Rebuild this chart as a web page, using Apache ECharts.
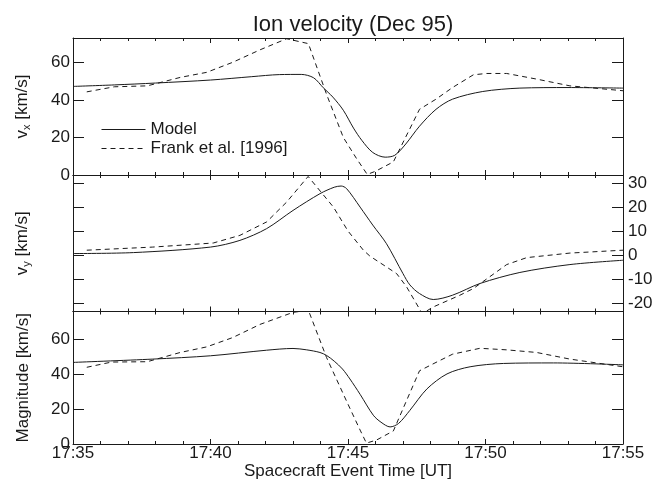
<!DOCTYPE html>
<html>
<head>
<meta charset="utf-8">
<script src="https://cdn.jsdelivr.net/npm/echarts@6/dist/echarts.min.js"></script>
<style>
html, body { margin: 0; padding: 0; background: #fff; }
#main { width: 666px; height: 481px; }
</style>
</head>
<body>
<div id="main"></div>
<script>
// minutes after 17:35
var timeLabels = ['17:35', '17:40', '17:45', '17:50', '17:55'];
var seriesNames = ['Model', 'Frank et al. [1996]'];

var vxModelT = [0, 1.5, 3, 5, 6.5, 7.5, 8.3, 8.75, 9.1, 9.45, 9.83, 10.2, 10.5, 10.9, 11.35, 11.7, 12.1, 12.6, 13.2, 13.8, 14.9, 16.25, 18, 20];
var vxModel = [47.2, 48, 49, 50.6, 52.4, 53.5, 53.6, 51.8, 46.5, 41.5, 34.5, 25, 18.5, 12, 9.5, 10.5, 16.5, 26, 35, 40.4, 44.5, 46.3, 46.6, 46.3];
var vxFrankT = [0.5, 1.5, 2.7, 3.9, 4.86, 5.8, 6.8, 7.77, 8.56, 9.22, 9.83, 10.3, 10.7, 11.0, 11.65, 12.6, 13.2, 13.8, 14.56, 15.04, 15.77, 16.86, 18.07, 20];
var vxFrank = [44.3, 47, 47.5, 52, 54.7, 60, 66.7, 72.6, 70, 43, 20, 9, 0.3, 2, 7, 35, 40.4, 46.6, 53.4, 54.1, 54.1, 51.1, 47.5, 44.9];

var vyModelT = [0, 2.2, 5, 6.07, 7.04, 8, 8.98, 9.5, 9.75, 9.95, 10.44, 10.9, 11.4, 12.0, 12.25, 12.6, 13.1, 13.8, 14.8, 16.25, 18.07, 20];
var vyModel = [0.6, 1, 3.3, 6.1, 11, 18.6, 25.6, 28.3, 28.8, 27.7, 20, 12.5, 4.7, -7.8, -12.5, -16.1, -18.6, -16.8, -11.9, -7.3, -4, -2.2];
var vyFrankT = [0.5, 2.9, 5.1, 6.07, 7.04, 7.77, 8.55, 9.47, 10.0, 10.56, 10.8, 11.4, 11.77, 12.13, 12.7, 13.1, 14.07, 14.56, 15.77, 16.5, 18.07, 20];
var vyFrank = [2, 3.3, 5, 8.2, 13.8, 22.1, 32.8, 20, 10, 2, -0.5, -5, -7.8, -13.3, -24.5, -21.7, -16.8, -14, -4, -1.1, 0.8, 2];

var magModelT = [0, 2.9, 5, 7.04, 8, 8.5, 8.98, 9.22, 9.5, 9.8, 10.07, 10.44, 10.92, 11.2, 11.53, 11.84, 12.25, 12.87, 13.6, 14.44, 15.65, 17.47, 20];
var magModel = [46.8, 48.7, 50.6, 53.8, 54.8, 54, 52.5, 50.8, 47.5, 43, 37.3, 28.5, 16.5, 12.5, 9.8, 11.8, 19.3, 31.6, 40.2, 44.3, 46.2, 46.5, 45.4];
var magFrankT = [0.5, 1.4, 2.7, 3.9, 4.86, 5.8, 6.8, 8.0, 8.56, 9.22, 9.95, 10.44, 10.67, 11.04, 11.65, 12.6, 13.2, 13.8, 14.8, 15.77, 16.86, 18.07, 20];
var magFrank = [44, 47, 47.2, 52.5, 55.7, 61, 68.6, 75.5, 76.7, 49.6, 24.5, 8, 0.5, 2.3, 7.5, 42, 46.8, 51.5, 54.9, 54, 52.5, 48.7, 44.3];

var vxTicks = [0, 20, 40, 60];
var vyTicks = [-20, -10, 0, 10, 20, 30];
var magTicks = [0, 20, 40, 60];

function pairs(t, v) {
    return t.map(function (x, i) { return [x, v[i]]; });
}

var font = 'Liberation Sans, Arial, Helvetica, sans-serif';
var ink = '#1a1a1a';
var panels = [
    { top: 38, height: 137, min: 0, max: 73, ticks: vxTicks, labelSide: 'left', name: 'v{sub|x} [km/s]' },
    { top: 175, height: 136.5, min: -23.6, max: 33.4, ticks: vyTicks, labelSide: 'right', name: 'v{sub|y} [km/s]' },
    { top: 311.5, height: 134.2, min: 0, max: 76, ticks: magTicks, labelSide: 'left', name: 'Magnitude [km/s]' }
];

var grids = [], xAxes = [], yAxes = [];
panels.forEach(function (p, i) {
    grids.push({ left: 73, right: 43, top: p.top, height: p.height });
    ['bottom', 'top'].forEach(function (pos) {
        var showLab = (i === 2 && pos === 'bottom');
        xAxes.push({
            type: 'value', gridIndex: i, position: pos, min: 0, max: 20, interval: 5,
            axisLine: { onZero: false, lineStyle: { color: ink, width: 1 } },
            axisTick: { inside: true, length: 5, lineStyle: { color: ink } },
            minorTick: { show: true, splitNumber: 5, length: 3, lineStyle: { color: ink } },
            splitLine: { show: false },
            axisLabel: {
                show: showLab, margin: 1, color: ink, fontSize: 17, fontFamily: font,
                formatter: function (v) { return timeLabels[Math.round(v / 5)]; }
            },
            name: showLab ? 'Spacecraft Event Time [UT]' : '',
            nameLocation: 'middle', nameGap: 19,
            nameTextStyle: { color: ink, fontSize: 17, fontFamily: font }
        });
    });
    ['left', 'right'].forEach(function (side) {
        var showLab = (side === p.labelSide);
        yAxes.push({
            type: 'value', gridIndex: i, position: side, min: p.min, max: p.max,
            axisLine: { onZero: false, lineStyle: { color: ink, width: 1 } },
            axisTick: { inside: true, length: 11, customValues: p.ticks, lineStyle: { color: ink } },
            splitLine: { show: false },
            axisLabel: {
                show: showLab, customValues: p.ticks, margin: side === 'left' ? 3 : 5,
                color: ink, fontSize: 17, fontFamily: font
            },
            name: side === 'left' ? p.name : '',
            nameLocation: 'middle', nameGap: 41,
            nameTextStyle: {
                color: ink, fontSize: 17, fontFamily: font,
                rich: { sub: { fontSize: 11, fontFamily: font, color: ink, padding: [9, 0, 0, 0] } }
            }
        });
    });
});

var datasets = [
    [pairs(vxModelT, vxModel), pairs(vxFrankT, vxFrank)],
    [pairs(vyModelT, vyModel), pairs(vyFrankT, vyFrank)],
    [pairs(magModelT, magModel), pairs(magFrankT, magFrank)]
];
var series = [];
datasets.forEach(function (d, i) {
    d.forEach(function (data, k) {
        series.push({
            name: seriesNames[k], type: 'line', xAxisIndex: 2 * i, yAxisIndex: 2 * i,
            data: data, symbol: 'none', smooth: k === 0 ? 0.3 : false, clip: true,
            lineStyle: { color: ink, width: 1, type: k === 0 ? 'solid' : [5, 4] },
            itemStyle: { color: ink }
        });
    });
});

var myChart = echarts.init(document.getElementById('main'));
myChart.setOption({
    animation: false,
    backgroundColor: '#fff',
    title: {
        text: 'Ion velocity (Dec 95)', left: 348, textAlign: 'center', top: 9,
        textStyle: { color: ink, fontSize: 22, fontWeight: 'normal', fontFamily: font }
    },
    legend: {
        data: seriesNames, orient: 'vertical', left: 96, top: 116, itemGap: 2,
        itemWidth: 44, itemHeight: 14, selectedMode: false,
        itemStyle: { opacity: 0 },
        lineStyle: { width: 1 },
        textStyle: { color: ink, fontSize: 17, fontFamily: font }
    },
    grid: grids,
    xAxis: xAxes,
    yAxis: yAxes,
    series: series
});
</script>
</body>
</html>
